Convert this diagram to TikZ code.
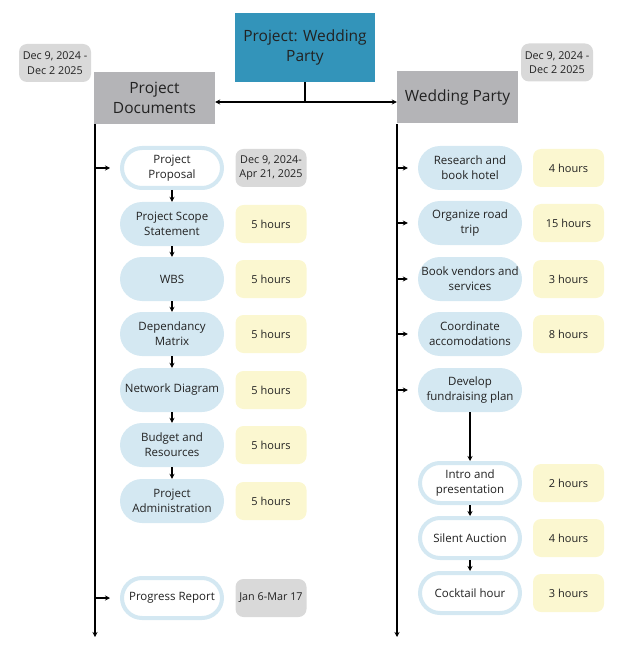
\documentclass[tikz,border=0pt]{standalone}
\usepackage{fontspec}
\setmainfont{Open Sans}
\usetikzlibrary{arrows.meta}
\definecolor{titleblue}{HTML}{3394BA}
\definecolor{headgray}{HTML}{B4B4B7}
\definecolor{dategray}{HTML}{D9D9D9}
\definecolor{pillblue}{HTML}{D4E8F2}
\definecolor{hourylw}{HTML}{FBF7D0}
\definecolor{txt}{HTML}{222222}
\begin{document}
\begin{tikzpicture}[x=1pt,y=-1pt,
  every node/.style={text=txt, align=center, inner sep=0pt},
  titlebox/.style={fill=titleblue, minimum width=140pt, minimum height=69pt, font=\fontsize{15.5}{19.5}\selectfont},
  headbox/.style={fill=headgray, minimum width=121pt, minimum height=52pt, font=\fontsize{15.5}{19.5}\selectfont},
  datebox/.style={fill=dategray, rounded corners=8pt, minimum height=38pt, font=\fontsize{10.8}{14.5}\selectfont},
  pill/.style={fill=pillblue, rounded corners=22pt, minimum width=104pt, minimum height=44pt, font=\fontsize{11.5}{15}\selectfont},
  pillw/.style={fill=white, draw=pillblue, line width=4pt, rounded corners=20pt, minimum width=100pt, minimum height=40pt, font=\fontsize{11.5}{15}\selectfont},
  hours/.style={fill=hourylw, rounded corners=8pt, minimum width=71pt, minimum height=38pt, font=\fontsize{11}{14}\selectfont},
  arr/.style={draw=black, line width=1.1pt, -{Stealth[length=5pt,width=5pt]}},
  link/.style={draw=black, line width=1.1pt}
]
\useasboundingbox (0,0) rectangle (624,660);

% top
\node[titlebox] (T) at (305,47.5) {Project: Wedding\\Party};
\node[headbox] (PD) at (154.5,98) {Project\\Documents};
\node[headbox] (WP) at (457.5,97.5) {Wedding Party};
\node[datebox, minimum width=72pt] (LD) at (55,63) {Dec 9, 2024 -\\Dec 2 2025};
\node[datebox, minimum width=72pt] (RD) at (557,62.5) {Dec 9, 2024 -\\Dec 2 2025};

\coordinate (J) at (305,102);
\draw[link] (T.south) -- (J);
\draw[line width=1.1pt, {Stealth[length=5pt,width=5pt]}-{Stealth[length=5pt,width=5pt]}] (PD.east |- J) -- (WP.west |- J);

% left column
\node[pillw] (PP) at (172,168) {Project\\Proposal};
\node[pill] (PS) at (172,224) {Project Scope\\Statement};
\node[pill] (WBS) at (172,279) {WBS};
\node[pill] (DM) at (172,334) {Dependancy\\Matrix};
\node[pill] (ND) at (172,390) {Network Diagram};
\node[pill] (BR) at (172,445) {Budget and\\Resources};
\node[pill] (PA) at (172,501) {Project\\Administration};
\node[pillw] (PR) at (172,598) {Progress Report};

\node[datebox, minimum width=71pt] (PPd) at (271,168) {Dec 9, 2024-\\Apr 21, 2025};
\node[hours] (PSh) at (271,224) {5 hours};
\node[hours] (WBSh) at (271,279) {5 hours};
\node[hours] (DMh) at (271,334) {5 hours};
\node[hours] (NDh) at (271,390) {5 hours};
\node[hours] (BRh) at (271,445) {5 hours};
\node[hours] (PAh) at (271,501) {5 hours};
\node[datebox, minimum width=71pt] (PRd) at (271,598) {Jan 6-Mar 17};

\draw[arr] (PP.south) -- (PS.north);
\draw[arr] (PS.south) -- (WBS.north);
\draw[arr] (WBS.south) -- (DM.north);
\draw[arr] (DM.south) -- (ND.north);
\draw[arr] (ND.south) -- (BR.north);
\draw[arr] (BR.south) -- (PA.north);

\coordinate (LTop) at (95,124);
\coordinate (LBot) at (95,637);
\draw[arr] (LTop) -- (LBot);
\draw[arr] (LTop |- PP.west) -- ([xshift=-10pt]PP.west);
\draw[arr] (LTop |- PR.west) -- ([xshift=-10pt]PR.west);

% right column
\node[pill] (RH) at (470,168) {Research and\\book hotel};
\node[pill] (RT) at (470,223) {Organize road\\trip};
\node[pill] (BV) at (470,279) {Book vendors and\\services};
\node[pill] (CA) at (470,334) {Coordinate\\accomodations};
\node[pill] (DF) at (470,390) {Develop\\fundraising plan};
\node[pillw] (IP) at (470,483) {Intro and\\presentation};
\node[pillw] (SA) at (470,538) {Silent Auction};
\node[pillw] (CH) at (470,593) {Cocktail hour};

\node[hours] (RHh) at (568.5,168) {4 hours};
\node[hours] (RTh) at (568.5,223) {15 hours};
\node[hours] (BVh) at (568.5,279) {3 hours};
\node[hours] (CAh) at (568.5,334) {8 hours};
\node[hours] (IPh) at (568.5,483) {2 hours};
\node[hours] (SAh) at (568.5,538) {4 hours};
\node[hours] (CHh) at (568.5,593) {3 hours};

\draw[arr] (DF.south) -- (IP.north);
\draw[arr] (IP.south) -- (SA.north);
\draw[arr] (SA.south) -- (CH.north);

\coordinate (RTop) at (397,124);
\coordinate (RBot) at (397,637);
\draw[arr] (RTop) -- (RBot);
\foreach \n in {RH,RT,BV,CA,DF}
  \draw[arr] (RTop |- \n.west) -- ([xshift=-10pt]\n.west);
\end{tikzpicture}
\end{document}
